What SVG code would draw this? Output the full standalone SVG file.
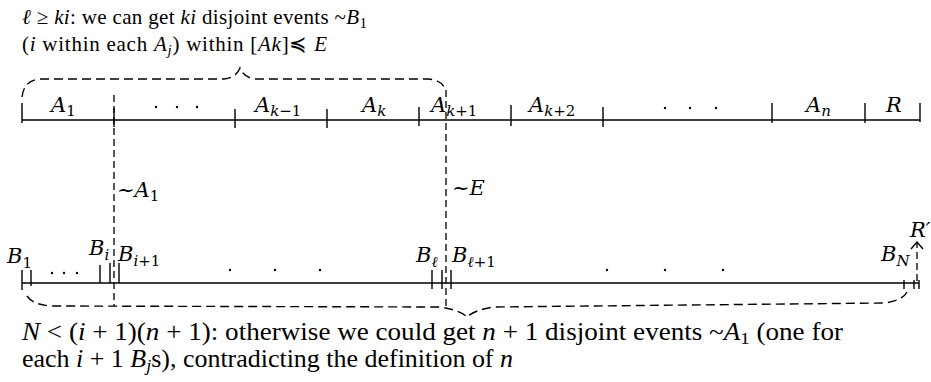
<svg xmlns="http://www.w3.org/2000/svg" width="931" height="382" viewBox="0 0 931 382">
<style>
.t{font-family:"Liberation Serif",serif;font-size:21px;fill:#000}
.tb{font-family:"Liberation Serif",serif;font-size:24.5px;fill:#000}
.m{font-style:italic}
.lab{font-family:"DejaVu Serif",serif;font-size:21px;font-style:italic;fill:#000}
.s{font-size:15px;font-style:normal}
.si{font-size:15px;font-style:italic}
.sb{font-size:17px;font-style:normal}
.sbi{font-size:17px;font-style:italic}
.ax{stroke:#000;stroke-width:1.6;fill:none}
.tk{stroke:#000;stroke-width:1.4;fill:none}
.dv{stroke:#000;stroke-width:1.3;fill:none;stroke-dasharray:7 4}
.br{stroke:#000;stroke-width:1.4;fill:none;stroke-dasharray:9 5}
.dot{fill:#000}
</style>
<g id="caption-top">
<text class="t" x="22" y="24" textLength="345" lengthAdjust="spacing"><tspan class="m">ℓ</tspan> ≥ <tspan class="m">ki</tspan>: we can get <tspan class="m">ki</tspan> disjoint events ~<tspan class="m">B</tspan><tspan class="s" dy="4">1</tspan></text>
<text class="t" x="22" y="51" textLength="305" lengthAdjust="spacing">(<tspan class="m">i</tspan> within each <tspan class="m">A</tspan><tspan class="si" dy="4">j</tspan><tspan dy="-4">) within [</tspan><tspan class="m">Ak</tspan>]≼ <tspan class="m">E</tspan></text>
</g>
<g id="line-A">
<line class="ax" x1="22" y1="120" x2="920" y2="120"/>
<path class="tk" d="M22,103V123M235,109V128M327,109V128M419,107V126M511,105V126M603,107V127M772,103V123M865,103V123M920,103V122"/>
<path class="tk" d="M114,108V127"/>
<text class="lab" x="51" y="112">A<tspan class="s" dy="4">1</tspan></text>
<circle class="dot" cx="156" cy="107" r="1.2"/><circle class="dot" cx="177" cy="107" r="1.2"/><circle class="dot" cx="197" cy="107" r="1.2"/>
<text class="lab" x="255" y="112">A<tspan class="si" dy="4">k</tspan><tspan class="s">−1</tspan></text>
<text class="lab" x="362" y="112">A<tspan class="si" dy="4">k</tspan></text>
<text class="lab" x="431" y="112">A<tspan class="si" dy="4">k</tspan><tspan class="s">+1</tspan></text>
<text class="lab" x="529" y="112">A<tspan class="si" dy="4">k</tspan><tspan class="s">+2</tspan></text>
<circle class="dot" cx="665" cy="108" r="1.2"/><circle class="dot" cx="690" cy="108" r="1.2"/><circle class="dot" cx="716" cy="108" r="1.2"/>
<text class="lab" x="806" y="112">A<tspan class="si" dy="4">n</tspan></text>
<text class="lab" x="886" y="112">R</text>
</g>
<g id="line-B">
<line class="ax" x1="22" y1="283" x2="919" y2="283"/>
<path class="tk" d="M22,270V290M31,270V286M100,265V283M110,263V283M119,263V283M432,270V289M442,270V289M451,270V289M904,280V289M914,280V289M919,280V289"/>
<text class="lab" x="7" y="263">B<tspan class="s" dy="5">1</tspan></text>
<circle class="dot" cx="52" cy="273" r="1.2"/><circle class="dot" cx="64" cy="273" r="1.2"/><circle class="dot" cx="77" cy="273" r="1.2"/>
<text class="lab" x="89" y="255">B<tspan class="si" dy="5">i</tspan></text>
<text class="lab" x="118" y="261">B<tspan class="si" dy="5">i</tspan><tspan class="s">+1</tspan></text>
<circle class="dot" cx="230" cy="270" r="1.2"/><circle class="dot" cx="275" cy="270" r="1.2"/><circle class="dot" cx="320" cy="270" r="1.2"/>
<text class="lab" x="416" y="262">B<tspan class="si" dy="5">ℓ</tspan></text>
<text class="lab" x="452" y="262">B<tspan class="si" dy="5">ℓ</tspan><tspan class="s">+1</tspan></text>
<circle class="dot" cx="607" cy="270" r="1.2"/><circle class="dot" cx="665" cy="270" r="1.2"/><circle class="dot" cx="723" cy="270" r="1.2"/>
<text class="lab" x="881" y="261">B<tspan class="si" dy="5">N</tspan></text>
<text class="lab" x="910" y="237">R′</text>
</g>
<g id="notA1"><text class="lab" x="117" y="197">~A<tspan class="s" dy="4">1</tspan></text></g>
<g id="notE"><text class="lab" x="452" y="195">~E</text></g>
<g id="connectors">
<line class="dv" x1="114" y1="95" x2="114" y2="306"/>
<line class="dv" x1="446" y1="90" x2="446" y2="306"/>
<path class="br" d="M22,97Q24,80 40,79L224,79Q236,78 240,68Q244,78 256,79L428,79Q443,80 445,90"/>
<path class="br" d="M27,296Q33,305 52,306L440,307Q460,310 467,317Q474,310 494,307L885,303Q903,300 907,292"/>
<line class="dv" x1="917" y1="281" x2="917" y2="243"/>
<path class="tk" d="M911,249L917,242L923,249"/>
</g>
<g id="caption-bottom">
<text class="tb" x="22" y="340" textLength="821" lengthAdjust="spacingAndGlyphs"><tspan class="m">N</tspan> &lt; (<tspan class="m">i</tspan> + 1)(<tspan class="m">n</tspan> + 1): otherwise we could get <tspan class="m">n</tspan> + 1 disjoint events ~<tspan class="m">A</tspan><tspan class="sb" dy="4">1</tspan><tspan dy="-4"> (one for</tspan></text>
<text class="tb" x="22" y="367" textLength="491" lengthAdjust="spacingAndGlyphs">each <tspan class="m">i</tspan> + 1 <tspan class="m">B</tspan><tspan class="sbi" dy="4">j</tspan><tspan dy="-4">s), contradicting the definition of </tspan><tspan class="m">n</tspan></text>
</g>
</svg>
